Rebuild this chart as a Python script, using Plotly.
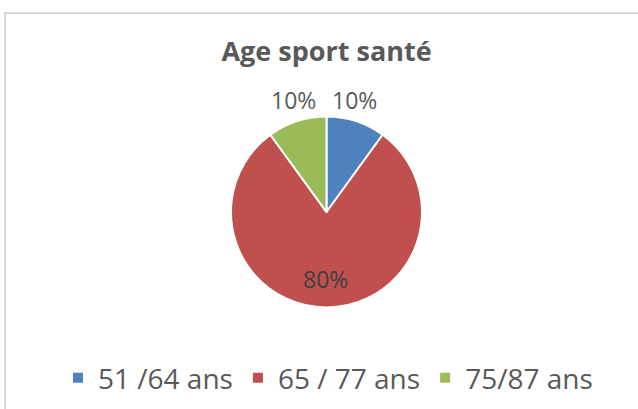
import plotly.graph_objects as go

labels = ["51 /64 ans", "65 / 77 ans", "75/87 ans"]
values = [10, 80, 10]
colors = ["#4F81BD", "#C0504D", "#9BBB59"]
title_text = "Age sport santé"

W, H = 638, 409
cx, cy, r = 326.5, 212.0, 95.5

# data-label anchor positions (pixels) for each slice
label_pos = [(354, 100), (325, 279), (293, 100)]
label_colors = ["#595959", "#404040", "#595959"]

total = sum(values)
pct_text = [f"{v / total * 100:.0f}%" for v in values]

fig = go.Figure(go.Pie(
    labels=labels,
    values=values,
    sort=False,
    direction="clockwise",
    rotation=0,
    marker=dict(colors=colors, line=dict(color="white", width=2)),
    textinfo="none",
    domain=dict(x=[(cx - r) / W, (cx + r) / W], y=[(H - cy - r) / H, (H - cy + r) / H]),
    showlegend=True,
    hoverinfo="label+percent",
))

annotations = []
for (px, py), t, c in zip(label_pos, pct_text, label_colors):
    annotations.append(dict(x=px / W, y=1 - py / H, xref="paper", yref="paper",
                            text=t, showarrow=False, xanchor="center", yanchor="middle",
                            font=dict(family="Open Sans", size=23, color=c)))

fig.update_layout(
    width=W, height=H,
    margin=dict(l=0, r=0, t=0, b=0),
    paper_bgcolor="white",
    plot_bgcolor="white",
    title=dict(text="<b>" + title_text + "</b>", x=cx / W, xanchor="center",
               y=1 - 52 / H, yanchor="middle",
               font=dict(family="Open Sans", size=27, color="#595959")),
    legend=dict(orientation="h", x=(328) / W, xanchor="center", y=(H - 378) / H, yanchor="middle",
                font=dict(family="Open Sans", size=28, color="#595959"),
                itemsizing="constant"),
    annotations=annotations,
    shapes=[dict(type="rect", xref="paper", yref="paper",
                 x0=5 / W, x1=1.02, y0=-0.02, y1=1 - 13 / H,
                 line=dict(color="#D9D9D9", width=2), fillcolor="rgba(0,0,0,0)", layer="below")],
)

fig.write_html("out.html", config={"displayModeBar": False},
               post_script="document.body.style.margin='0';document.body.style.padding='0';document.body.style.overflow='hidden';")
